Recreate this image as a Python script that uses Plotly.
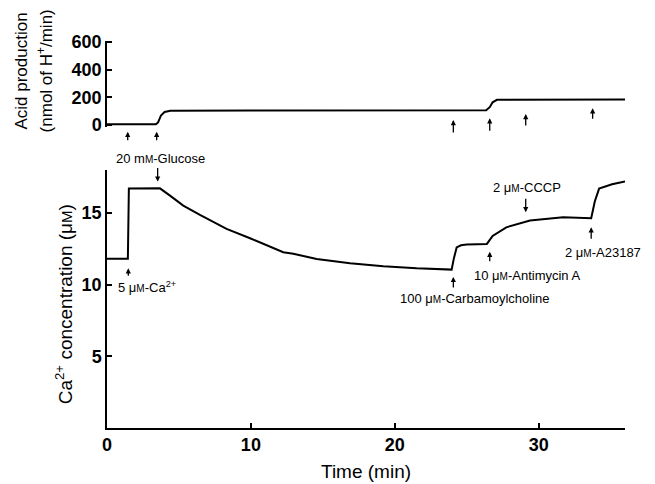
import plotly.graph_objects as go

# ---------------- data ----------------
time_ca = [0, 1.45, 1.52, 3.0, 3.68, 4.38, 5.30, 6.46, 8.31, 9.94, 11.10, 12.25, 12.95,
           14.57, 16.89, 19.2, 21.52, 23.37, 23.95, 24.1, 24.3, 24.6, 25.0, 26.4, 26.8,
           27.75, 29.4, 31.7, 33.65, 33.9, 34.2, 35.1, 36.0]
ca_conc = [11.8, 11.8, 16.7, 16.72, 16.72, 16.21, 15.51, 14.86, 13.89, 13.24, 12.72, 12.26, 12.16,
           11.79, 11.49, 11.28, 11.14, 11.09, 11.05, 11.8, 12.6, 12.75, 12.8, 12.84, 13.4,
           14.0, 14.47, 14.7, 14.63, 15.8, 16.7, 17.0, 17.2]

time_acid = [0, 3.4, 3.55, 3.75, 4.0, 4.4, 10, 20, 26.35, 26.6, 26.8, 27.1, 30, 36]
acid_rate = [6, 6, 20, 70, 95, 104, 105, 107, 108, 130, 165, 183, 185, 185]

x_ticks = [0, 10, 20, 30]
ca_ticks = [5, 10, 15]
acid_ticks = [0, 200, 400, 600]

SM = "<span style='font-size:10px'>M</span>"
event_labels = ["5 μ" + SM + "-Ca<sup>2+</sup>",
                "20 m" + SM + "-Glucose",
                "100 μ" + SM + "-Carbamoylcholine",
                "10 μ" + SM + "-Antimycin A",
                "2 μ" + SM + "-CCCP",
                "2 μ" + SM + "-A23187"]
# label anchor positions (time, y, y reference)
label_t = [2.75, 3.75, 25.57, 29.17, 29.22, 34.47]
label_y = [9.84, 0.695, 9.0, 10.63, 16.8, 12.26]
label_ref = ["y", "paper", "y", "y", "y", "y"]

# bottom-panel arrows: time, tip value (Ca axis), pixel offset of tail
ca_arrow_t = [1.48, 3.52, 24.07, 26.6, 29.1, 33.65]
ca_arrow_tip = [11.14, 17.19, 10.54, 12.3, 15.05, 14.0]
ca_arrow_ay = [9, -15, 12, 11, -15, 13]

# top-panel arrows: time, tip (paper fraction), pixel offset of tail
acid_arrow_t = [1.44, 3.45, 24.07, 26.6, 29.1, 33.75]
acid_arrow_tip = [0.7637, 0.7637, 0.7938, 0.7982, 0.8093, 0.824]
acid_arrow_ay = [10, 10, 14, 14, 13, 12]

FONT = "Liberation Sans, Arial, sans-serif"

fig = go.Figure()
fig.add_trace(go.Scatter(x=time_ca, y=ca_conc, mode="lines",
                         line=dict(color="black", width=2), xaxis="x", yaxis="y",
                         showlegend=False, hoverinfo="skip"))
fig.add_trace(go.Scatter(x=time_acid, y=acid_rate, mode="lines",
                         line=dict(color="black", width=2), xaxis="x", yaxis="y2",
                         showlegend=False, hoverinfo="skip"))

annotations = []
for t, y, ref, txt in zip(label_t, label_y, label_ref, event_labels):
    annotations.append(dict(x=t, y=y, xref="x", yref=ref, text=txt, showarrow=False,
                            font=dict(size=13, color="black", family=FONT),
                            xanchor="center", yanchor="middle"))
for t, y, ay in zip(ca_arrow_t, ca_arrow_tip, ca_arrow_ay):
    annotations.append(dict(x=t, y=y, xref="x", yref="y", text="", showarrow=True,
                            ax=0, ay=ay, arrowhead=2, arrowsize=0.8, arrowwidth=1.3,
                            arrowcolor="black", standoff=0))
for t, y, ay in zip(acid_arrow_t, acid_arrow_tip, acid_arrow_ay):
    annotations.append(dict(x=t, y=y, xref="x", yref="paper", text="", showarrow=True,
                            ax=0, ay=ay, arrowhead=2, arrowsize=0.8, arrowwidth=1.3,
                            arrowcolor="black", standoff=0))

# axis titles
annotations.append(dict(x=-0.084, y=0.32, xref="paper", yref="paper",
                        text="Ca<sup>2+</sup> concentration (μ" + "<span style='font-size:15px'>M</span>)",
                        textangle=-90, showarrow=False,
                        font=dict(size=19, color="black", family=FONT),
                        xanchor="center", yanchor="middle"))
annotations.append(dict(x=-0.165, y=0.92, xref="paper", yref="paper",
                        text="Acid production", textangle=-90, showarrow=False,
                        font=dict(size=17, color="black", family=FONT),
                        xanchor="center", yanchor="middle"))
annotations.append(dict(x=-0.119, y=0.92, xref="paper", yref="paper",
                        text="(nmol of H<sup>+</sup>/min)", textangle=-90, showarrow=False,
                        font=dict(size=17, color="black", family=FONT),
                        xanchor="center", yanchor="middle"))
annotations.append(dict(x=0.5, y=-0.113, xref="paper", yref="paper",
                        text="Time (min)", showarrow=False,
                        font=dict(size=19, color="black", family=FONT),
                        xanchor="center", yanchor="middle"))

axis_common = dict(showline=True, linecolor="black", linewidth=1.5, ticks="inside",
                   ticklen=5, tickwidth=1.5, tickcolor="black", showgrid=False,
                   zeroline=False,
                   tickfont=dict(size=18, color="black", family=FONT, weight="bold"))

fig.update_layout(
    width=655, height=484,
    margin=dict(l=107, r=30, t=40, b=56),
    paper_bgcolor="white", plot_bgcolor="white",
    xaxis=dict(range=[0, 36], domain=[0, 1], anchor="y", tickvals=x_ticks, **axis_common),
    yaxis=dict(range=[0, 18], domain=[0, 0.665], anchor="x", tickvals=ca_ticks, **axis_common),
    yaxis2=dict(range=[-10, 610], domain=[0.777, 0.998], anchor="x", tickvals=acid_ticks,
                **axis_common),
    annotations=annotations,
    showlegend=False,
)

fig.write_html("out.html")
